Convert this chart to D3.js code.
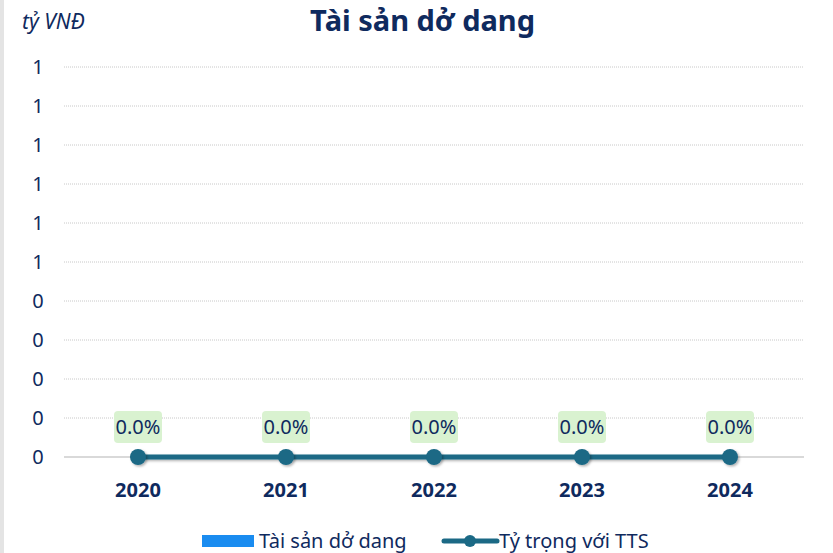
<!DOCTYPE html>
<html>
<head>
<meta charset="utf-8">
<script src="https://cdn.jsdelivr.net/npm/d3@7"></script>
<style>
  body { margin: 0; background: #fff; }
  svg { display: block; font-family: "Noto Sans", "Open Sans", sans-serif; }
</style>
</head>
<body>
<div class="chart"></div>
<script>
const width = 833;
const height = 553;

// data
const years = ["2020", "2021", "2022", "2023", "2024"];
const assetValues = [0, 0, 0, 0, 0];       // Tài sản dở dang (tỷ VNĐ)
const shareValues = [0, 0, 0, 0, 0];       // Tỷ trọng với TTS (%)
const yTicks = [0, 0.1, 0.2, 0.3, 0.4, 0.5, 0.6, 0.7, 0.8, 0.9, 1];

const navy = "#0f2a5e";
const teal = "#1b6985";
const margin = { top: 67, right: 29, bottom: 96, left: 64 };

let svg = d3.select(".chart")
    .append("svg")
    .attr("width", width)
    .attr("height", height);

// left edge strip
svg.append("rect")
    .attr("x", 0).attr("y", 0)
    .attr("width", 4).attr("height", height)
    .attr("fill", "#e4e4e4");

let xScale = d3.scaleBand()
    .domain(years)
    .range([margin.left, width - margin.right]);

let yScale = d3.scaleLinear()
    .domain([0, 1])
    .range([height - margin.bottom, margin.top]);

let y2Scale = d3.scaleLinear()
    .domain([0, 1])
    .range([height - margin.bottom, margin.top]);

// grid lines
svg.append("g")
    .selectAll("line")
    .data(yTicks.slice(1))
    .enter()
    .append("line")
    .attr("x1", margin.left)
    .attr("x2", width - margin.right)
    .attr("y1", (d) => yScale(d))
    .attr("y2", (d) => yScale(d))
    .attr("stroke", "#c8c8c8")
    .attr("stroke-width", 1)
    .attr("stroke-dasharray", "1,1");

// y labels
svg.append("g")
    .selectAll("text")
    .data(yTicks)
    .enter()
    .append("text")
    .attr("x", 38)
    .attr("y", (d) => yScale(d))
    .attr("dy", "0.35em")
    .attr("text-anchor", "middle")
    .attr("fill", navy)
    .attr("font-size", 20)
    .text((d) => Math.round(d));

// baseline
svg.append("line")
    .attr("x1", margin.left)
    .attr("x2", width - margin.right)
    .attr("y1", yScale(0))
    .attr("y2", yScale(0))
    .attr("stroke", "#d9d9d9")
    .attr("stroke-width", 2);

// bars (all zero)
svg.append("g")
    .selectAll("rect")
    .data(assetValues)
    .enter()
    .append("rect")
    .attr("x", (d, i) => xScale(years[i]) + xScale.bandwidth() * 0.2)
    .attr("width", xScale.bandwidth() * 0.6)
    .attr("y", (d) => yScale(d))
    .attr("height", (d) => yScale(0) - yScale(d))
    .attr("fill", "#1a8cf0");

// x labels
svg.append("g")
    .selectAll("text")
    .data(years)
    .enter()
    .append("text")
    .attr("x", (d) => xScale(d) + xScale.bandwidth() / 2)
    .attr("y", 497)
    .attr("text-anchor", "middle")
    .attr("fill", navy)
    .attr("font-size", 20)
    .attr("font-weight", "bold")
    .text((d) => d);

// shadow filter
let defs = svg.append("defs");
let f = defs.append("filter").attr("id", "shadow")
    .attr("filterUnits", "userSpaceOnUse")
    .attr("x", 0).attr("y", 0).attr("width", width).attr("height", height);
f.append("feDropShadow")
    .attr("dx", 1.5).attr("dy", 1.5).attr("stdDeviation", 1)
    .attr("flood-color", "#000").attr("flood-opacity", 0.3);

// line
let cx = (i) => xScale(years[i]) + xScale.bandwidth() / 2;
let line = d3.line()
    .x((d, i) => cx(i))
    .y((d) => y2Scale(d));

svg.append("path")
    .datum(shareValues)
    .attr("d", line)
    .attr("fill", "none")
    .attr("stroke", teal)
    .attr("stroke-width", 5)
    .attr("filter", "url(#shadow)");

svg.append("g")
    .selectAll("circle")
    .data(shareValues)
    .enter()
    .append("circle")
    .attr("cx", (d, i) => cx(i))
    .attr("cy", (d) => y2Scale(d))
    .attr("r", 8)
    .attr("fill", teal)
    .attr("filter", "url(#shadow)");

// data labels
let labels = svg.append("g")
    .selectAll("g")
    .data(shareValues)
    .enter()
    .append("g")
    .attr("transform", (d, i) => "translate(" + cx(i) + "," + (y2Scale(d) - 30) + ")");
labels.append("rect")
    .attr("x", -24).attr("y", -16)
    .attr("width", 48).attr("height", 32)
    .attr("rx", 4)
    .attr("fill", "#d9f2d0");
labels.append("text")
    .attr("text-anchor", "middle")
    .attr("dy", "0.35em")
    .attr("fill", navy)
    .attr("font-size", 20)
    .text((d) => d.toFixed(1) + "%");

// title
svg.append("text")
    .attr("x", width / 2 + 6)
    .attr("y", 31)
    .attr("text-anchor", "middle")
    .attr("fill", navy)
    .attr("font-size", 29)
    .attr("font-weight", "bold")
    .text("Tài sản dở dang");

// unit
svg.append("text")
    .attr("x", 22)
    .attr("y", 29)
    .attr("fill", navy)
    .attr("font-size", 21)
    .attr("font-style", "italic")
    .text("tỷ VNĐ");

// legend
let legend = svg.append("g");
legend.append("rect")
    .attr("x", 202).attr("y", 535)
    .attr("width", 52).attr("height", 12)
    .attr("fill", "#1a8cf0");
legend.append("text")
    .attr("x", 259).attr("y", 541)
    .attr("dy", "0.35em")
    .attr("fill", navy)
    .attr("font-size", 20)
    .text("Tài sản dở dang");
legend.append("line")
    .attr("x1", 444).attr("x2", 497)
    .attr("y1", 541).attr("y2", 541)
    .attr("stroke", teal)
    .attr("stroke-width", 5)
    .attr("stroke-linecap", "round");
legend.append("circle")
    .attr("cx", 470).attr("cy", 541)
    .attr("r", 6)
    .attr("fill", teal);
legend.append("text")
    .attr("x", 499).attr("y", 541)
    .attr("dy", "0.35em")
    .attr("fill", navy)
    .attr("font-size", 20)
    .text("Tỷ trọng với TTS");
</script>
</body>
</html>
